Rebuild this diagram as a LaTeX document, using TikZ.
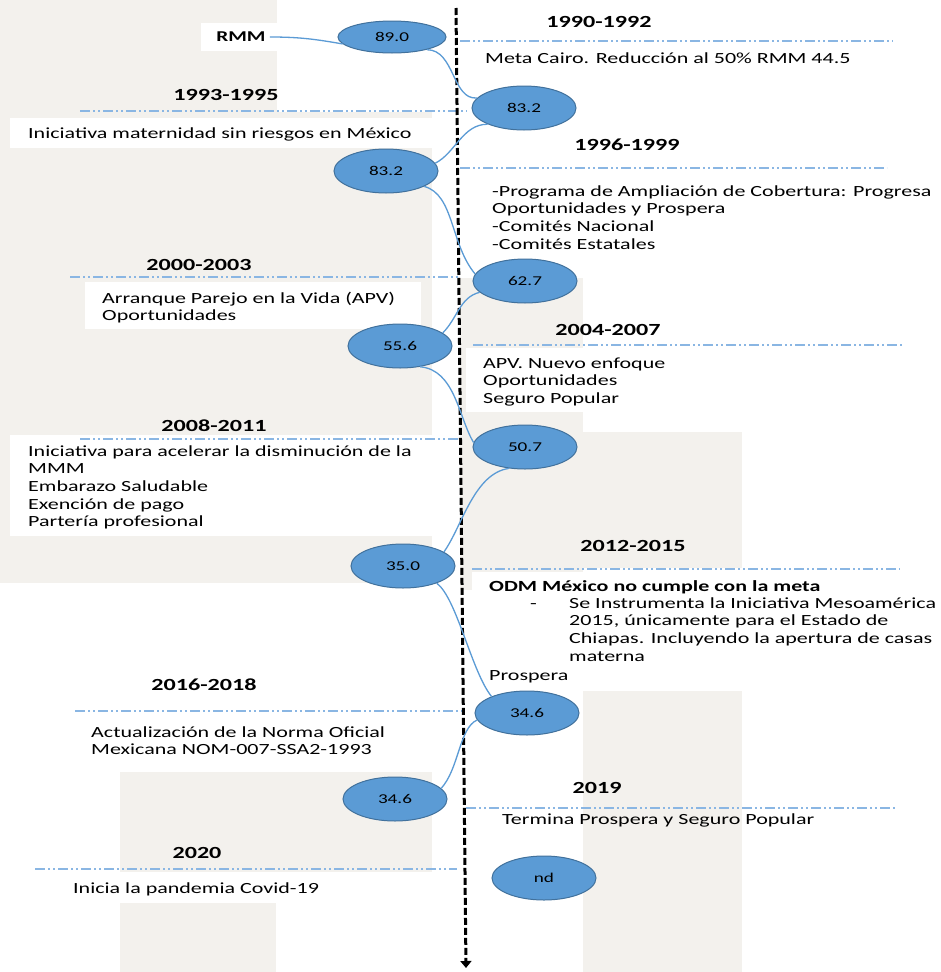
\documentclass[tikz,border=0pt]{standalone}
\usepackage{fontspec}
\setmainfont{Carlito}[FakeStretch=1.42]
\usetikzlibrary{shapes.geometric,arrows.meta}
\definecolor{ellfill}{HTML}{5B9BD5}
\definecolor{elldraw}{HTML}{41719C}
\definecolor{linkc}{HTML}{5B9BD5}
\definecolor{sepc}{HTML}{8AB6E3}
\definecolor{paper}{HTML}{F3F1ED}
\newcommand{\fstrut}{\rule{0pt}{13pt}}
\begin{document}
\begin{tikzpicture}[x=1pt,y=1pt,
 val/.style={ellipse, fill=ellfill, draw=elldraw, line width=1pt, minimum width=104pt, minimum height=44pt, inner sep=0pt, font=\fontsize{13.5}{16}\selectfont},
 yearlbl/.style={font=\fontsize{17}{20}\selectfont\bfseries, inner sep=0pt},
 body/.style={font=\fontsize{15.5}{17.6}\selectfont, align=left, anchor=north west, inner sep=0pt},
 link/.style={draw=linkc, line width=1.3pt},
 sepline/.style={draw=sepc, line width=1.2pt, dash pattern=on 10pt off 3pt on 2pt off 3pt on 2pt off 3pt},
 paperbox/.style={fill=paper},
 whitebox/.style={fill=white},
 axisline/.style={line width=3pt, dash pattern=on 7pt off 3pt, -{Triangle[width=11pt,length=7pt]}}
]
\useasboundingbox (0,0) rectangle (941,-972);
\fill[white] (0,0) rectangle (941,-972);
% paper patches
\fill[paperbox] (0,0) rectangle (277,-118);
\fill[paperbox] (0,-112) rectangle (432,-583);
\fill[paperbox] (460,-278) rectangle (583,-590);
\fill[paperbox] (466,-432) rectangle (742,-568);
\fill[paperbox] (583,-691) rectangle (742,-972);
\fill[paperbox] (120,-772) rectangle (432,-872);
\fill[paperbox] (120,-903) rectangle (276,-972);
% white boxes
\fill[whitebox] (201,-23) rectangle (277,-51);
\fill[whitebox] (10,-118) rectangle (437,-148);
\fill[whitebox] (85,-282) rectangle (421,-329);
\fill[whitebox] (466,-348) rectangle (600,-412);
\fill[whitebox] (10,-435) rectangle (460,-536);
\fill[whitebox] (472,-572) rectangle (941,-690);
% separator lines
\draw[sepline] (460,-41) -- (893,-41);
\draw[sepline] (80,-111) -- (467,-111);
\draw[sepline] (460,-168) -- (887,-168);
\draw[sepline] (70,-277) -- (460,-277);
\draw[sepline] (473,-345) -- (902,-345);
\draw[sepline] (80,-439) -- (462,-439);
\draw[sepline] (472,-569) -- (900,-569);
\draw[sepline] (75,-711) -- (462,-711);
\draw[sepline] (466,-808) -- (897,-808);
\draw[sepline] (35,-869) -- (457,-869);
% axis
\coordinate (axtop) at (456,-8);
\coordinate (axbot) at (466,-968);
\draw[axisline] (axtop) -- (axbot);
% year labels
\node[yearlbl] (y1) at (599,-22) {1990-1992};
\node[yearlbl] (y2) at (226,-95) {1993-1995};
\node[yearlbl] (y3) at (627,-145) {1996-1999};
\node[yearlbl] (y4) at (199,-265) {2000-2003};
\node[yearlbl] (y5) at (608,-330) {2004-2007};
\node[yearlbl] (y6) at (214,-426) {2008-2011};
\node[yearlbl] (y7) at (633,-546) {2012-2015};
\node[yearlbl] (y8) at (204,-685) {2016-2018};
\node[yearlbl] (y9) at (597,-788) {2019};
\node[yearlbl] (y10) at (197,-853) {2020};
% texts
\node[font=\fontsize{15}{18}\selectfont\bfseries, inner sep=0pt] (rmm) at (241,-37) {RMM};
\node[body] (t1) at (485,-50) {\fstrut Meta Cairo. Reducción al 50\% RMM 44.5};
\node[body] (t2) at (28,-125) {\fstrut Iniciativa maternidad sin riesgos en México};
\node[body] (t3) at (492,-183) {\fstrut -Programa de Ampliación de Cobertura: Progresa\\Oportunidades y Prospera\\-Comités Nacional\\-Comités Estatales};
\node[body, font=\fontsize{15.5}{17}\selectfont] (t4) at (102,-290) {\fstrut Arranque Parejo en la Vida (APV)\\Oportunidades};
\node[body] (t5) at (483,-355) {\fstrut APV. Nuevo enfoque\\Oportunidades\\Seguro Popular};
\node[body] (t6) at (28,-443) {\fstrut Iniciativa para acelerar la disminución de la\\MMM\\Embarazo Saludable\\Exención de pago\\Partería profesional};
\node[body, font=\fontsize{15.5}{17.6}\selectfont\bfseries] (t7) at (489,-578) {\fstrut ODM México no cumple con la meta};
\node[body] (t7d) at (530,-595) {\fstrut -};
\node[body] (t7b) at (569,-595) {\fstrut Se Instrumenta la Iniciativa Mesoamérica\\2015, únicamente para el Estado de\\Chiapas. Incluyendo la apertura de casas\\materna};
\node[body] (t7c) at (489,-667) {\fstrut Prospera};
\node[body] (t8) at (91,-724) {\fstrut Actualización de la Norma Oficial\\Mexicana NOM-007-SSA2-1993};
\node[body] (t9) at (502,-811) {\fstrut Termina Prospera y Seguro Popular};
\node[body] (t10) at (73,-880) {\fstrut Inicia la pandemia Covid-19};
% value ellipses
\node[val, minimum width=108pt, minimum height=32pt] (e1) at (392,-37) {89.0};
\node[val] (e2) at (524,-108) {83.2};
\node[val] (e3) at (386,-171) {83.2};
\node[val] (e4) at (525,-281) {62.7};
\node[val] (e5) at (400,-346) {55.6};
\node[val] (e6) at (525,-447) {50.7};
\node[val] (e7) at (403,-566) {35.0};
\node[val] (e8) at (527,-713) {34.6};
\node[val] (e9) at (395,-799) {34.6};
\node[val] (e10) at (544,-878) {nd};
% connectors
\draw[link] (rmm.east) ++(4,0) to[out=0,in=170] (e1.188);
\draw[link] (e1.-20) .. controls +(28,0) and +(-25,-2) .. (e2.168);
\draw[link] (e2.204) .. controls +(-25,0) and +(20,10) .. (e3.9);
\draw[link] (e3.-22) .. controls +(30,-8) and +(-25,30) .. (e4.172);
\draw[link] (e4.194) .. controls +(-20,-5) and +(15,15) .. (e5.17);
\draw[link] (e5.-46) .. controls +(35,-3) and +(-15,25) .. (e6.175);
\draw[link] (e6.233) .. controls +(-35,-5) and +(18,25) .. (e7.19);
\draw[link] (e7.-27) .. controls +(20,-15) and +(-20,25) .. (e8.155);
\draw[link] (e8.188) .. controls +(-18,-8) and +(18,20) .. (e9.13);
\end{tikzpicture}
\end{document}
